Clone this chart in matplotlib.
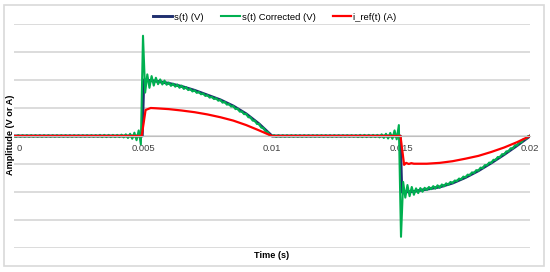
import numpy as np
import matplotlib.pyplot as plt
from matplotlib.patches import Rectangle
from matplotlib.transforms import ScaledTranslation

plt.rcParams['font.family'] = ['Liberation Sans', 'DejaVu Sans']

# s(t) (V)
blue_t = [0, 0.00497, 0.00503, 0.0055, 0.006, 0.0065, 0.007, 0.0075, 0.008, 0.0085, 0.009, 0.0095, 0.01,
          0.01497, 0.01503, 0.0155, 0.016, 0.0165, 0.017, 0.0175, 0.018, 0.0185, 0.019, 0.0195, 0.02]
blue_v = [0, 0, 2.0, 1.96, 1.88, 1.77, 1.63, 1.46, 1.29, 1.07, 0.79, 0.43, 0,
          0, -2.0, -1.98, -1.9, -1.82, -1.68, -1.48, -1.24, -0.96, -0.66, -0.34, 0]

# i_ref(t) (A)
red_t = [0, 0.00495, 0.0051, 0.0053, 0.0055, 0.006, 0.0065, 0.007, 0.0075, 0.008, 0.0085, 0.009, 0.0095, 0.01,
         0.01498, 0.01512, 0.0152, 0.0153, 0.0154, 0.0155, 0.016, 0.0165, 0.017, 0.0175, 0.018, 0.0185,
         0.019, 0.0195, 0.02]
red_v = [0, 0, 0.93, 1.0, 0.99, 0.96, 0.91, 0.85, 0.77, 0.67, 0.55, 0.39, 0.2, 0,
         0, -1.03, -0.96, -1.0, -0.97, -0.99, -0.99, -0.96, -0.9, -0.81, -0.71, -0.57,
         -0.41, -0.22, 0]

# s(t) Corrected (V), 241 samples from 0 to 0.02 s
green_v = [
    0.0, -0.03, 0.03, -0.03, 0.03, -0.03, 0.03, -0.03, 0.03, -0.03, 0.03, -0.03,
    0.03, -0.03, 0.03, -0.03, 0.03, -0.03, 0.03, -0.03, 0.03, -0.03, 0.03, -0.03,
    0.03, -0.03, 0.03, -0.03, 0.03, -0.03, 0.03, -0.03, 0.03, -0.03, 0.03, -0.03,
    0.03, -0.03, 0.03, -0.03, 0.04, -0.04, 0.04, -0.04, 0.04, -0.04, 0.04, -0.04,
    0.04, -0.04, 0.05, -0.05, 0.06, -0.07, 0.08, -0.1, 0.12, -0.15, 0.2, -0.3,
    3.58, 1.55, 2.20, 1.72, 2.14, 1.80, 2.08, 1.85, 2.02, 1.84, 1.98, 1.83,
    1.91, 1.79, 1.87, 1.76, 1.84, 1.72, 1.80, 1.68, 1.75, 1.64, 1.68, 1.59,
    1.63, 1.54, 1.57, 1.49, 1.52, 1.43, 1.46, 1.37, 1.40, 1.32, 1.35, 1.26,
    1.29, 1.19, 1.22, 1.12, 1.14, 1.05, 1.07, 0.96, 0.98, 0.87, 0.88, 0.78,
    0.79, 0.67, 0.67, 0.55, 0.55, 0.43, 0.43, 0.30, 0.29, 0.16, 0.14, 0.02,
    0.0, 0.03, -0.03, 0.03, -0.03, 0.03, -0.03, 0.03, -0.03, 0.03, -0.03, 0.03,
    -0.03, 0.03, -0.03, 0.03, -0.03, 0.03, -0.03, 0.03, -0.03, 0.03, -0.03, 0.03,
    -0.03, 0.03, -0.03, 0.03, -0.03, 0.03, -0.03, 0.03, -0.03, 0.03, -0.03, 0.03,
    -0.03, 0.03, -0.03, 0.03, -0.04, 0.04, -0.04, 0.04, -0.04, 0.04, -0.04, 0.04,
    -0.04, 0.04, -0.05, 0.06, -0.07, 0.08, -0.09, 0.11, -0.1, 0.2, -0.12, 0.39,
    -3.60, -1.64, -2.20, -1.75, -2.15, -1.82, -2.10, -1.87, -2.04, -1.86, -1.99, -1.85,
    -1.93, -1.82, -1.90, -1.79, -1.88, -1.76, -1.85, -1.73, -1.80, -1.69, -1.75, -1.64,
    -1.68, -1.59, -1.61, -1.52, -1.55, -1.45, -1.48, -1.38, -1.40, -1.30, -1.32, -1.22,
    -1.24, -1.13, -1.15, -1.04, -1.05, -0.95, -0.96, -0.85, -0.86, -0.75, -0.76, -0.65,
    -0.66, -0.55, -0.55, -0.44, -0.45, -0.33, -0.34, -0.22, -0.23, -0.11, -0.11, -0.01,
    0.0,
]
green_t = np.linspace(0, 0.02, len(green_v))

x_ticks = [0, 0.005, 0.01, 0.015, 0.02]
x_labels = ['0', '0.005', '0.01', '0.015', '0.02']

W, H = 550, 272
fig = plt.figure(figsize=(W / 100, H / 100), dpi=100)
ax = fig.add_axes([14 / W, 1 - 248 / H, 516 / W, 224 / H])

ax.plot(blue_t, blue_v, color='#1f2f6e', lw=2.1, label='s(t) (V)')
ax.plot(green_t, green_v, color='#00b050', lw=1.5, label='s(t) Corrected (V)')
ax.plot(red_t, red_v, color='#ff0000', lw=1.6, label='i_ref(t) (A)')

ax.set_xlim(0, 0.02)
ax.set_ylim(-4, 4)
ax.set_yticks(range(-4, 5))
ax.yaxis.grid(True, color='#d9d9d9', lw=1.3)
ax.set_axisbelow(True)
ax.tick_params(axis='y', length=0, labelleft=False)
for s in ['top', 'right', 'left']:
    ax.spines[s].set_visible(False)
ax.spines['bottom'].set_position(('data', 0))
ax.spines['bottom'].set_color('#bfbfbf')
ax.set_xticks(x_ticks)
ax.set_xticklabels(x_labels, fontsize=6.8)
ax.tick_params(axis='x', length=0, pad=6, colors='#404040')
first = ax.get_xticklabels()[0]
first.set_horizontalalignment('left')
first.set_transform(first.get_transform() + ScaledTranslation(3 / 100, 0, fig.dpi_scale_trans))

fig.legend(loc='center', bbox_to_anchor=(0.5, 1 - 17 / H), ncol=3, frameon=False,
           fontsize=6.8, handlelength=2.0, handletextpad=0.2, columnspacing=1.8)

fig.text(11 / W, 1 - 135 / H, 'Amplitude (V or A)', rotation=90, ha='center', va='center',
         fontsize=6.6, fontweight='bold')
fig.text(272 / W, 1 - 256 / H, 'Time (s)', ha='center', va='center', fontsize=6.6, fontweight='bold')

fig.patches.append(Rectangle((4 / W, 6 / H), 540 / W, 261 / H, transform=fig.transFigure,
                             fill=False, edgecolor='#d9d9d9', lw=1.2))

fig.savefig('out.png', dpi=100)
